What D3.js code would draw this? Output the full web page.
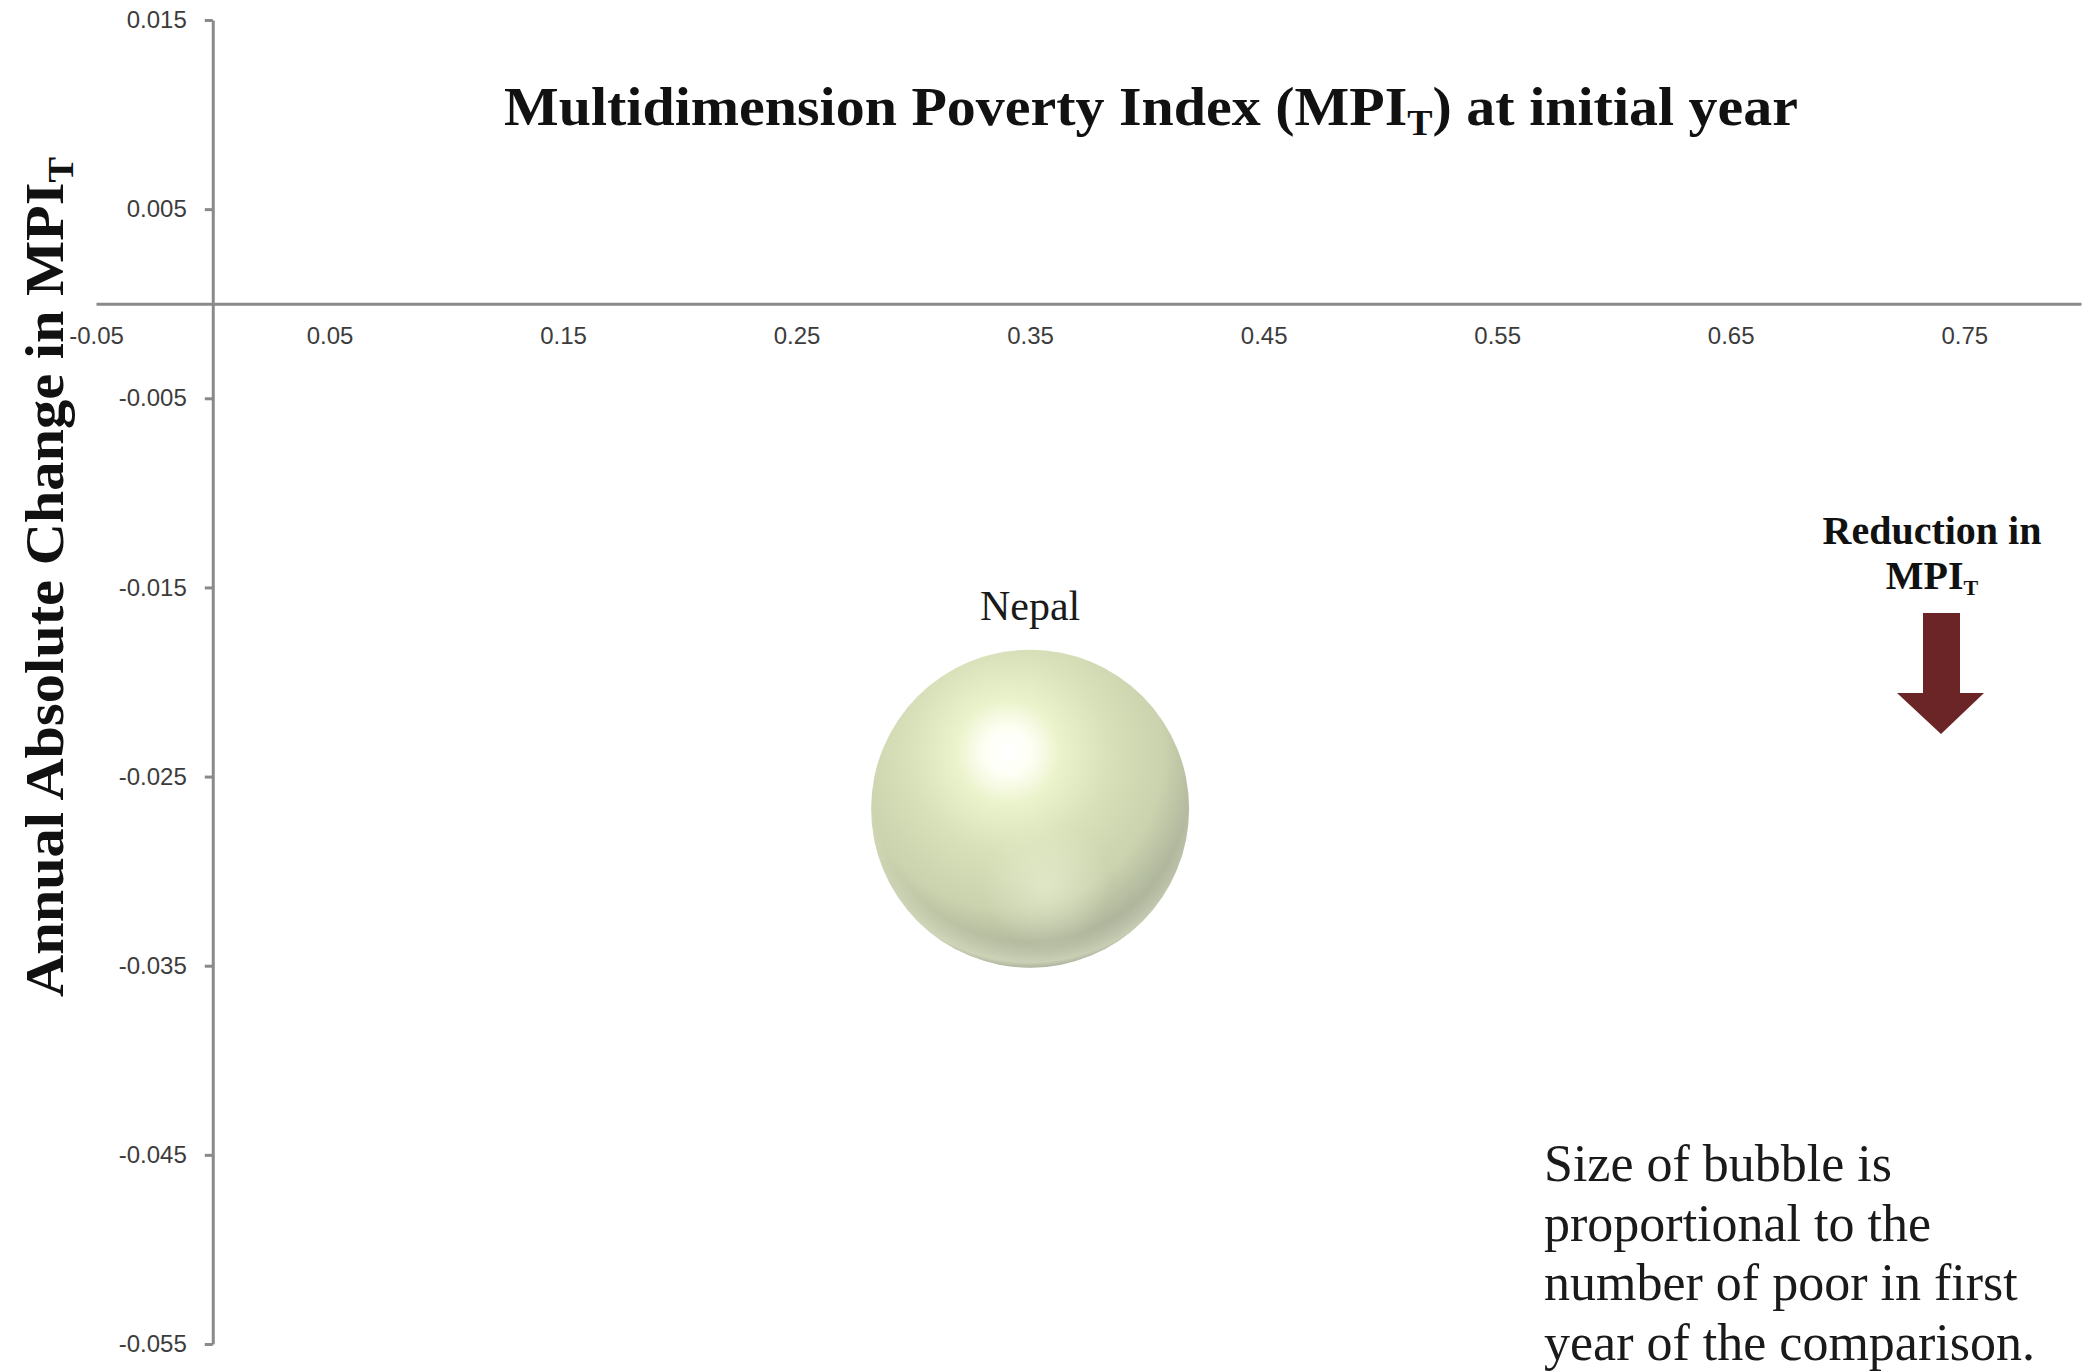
<!DOCTYPE html>
<html>
<head>
<meta charset="utf-8">
<script src="https://d3js.org/d3.v7.min.js"></script>
<style>
  html, body { margin: 0; padding: 0; background: #ffffff; }
  svg { display: block; }
</style>
</head>
<body>
<div id="chart"></div>
<script>
// Bubble data: MPI at initial year (x), annual absolute change (y), poor in first year (millions)
const countries = ["Nepal"];
const mpiInitial = [0.35];
const annualChange = [-0.0267];
const poorFirstYear = [17.0];

// Axis ticks
const xTicks = [-0.05, 0.05, 0.15, 0.25, 0.35, 0.45, 0.55, 0.65, 0.75];
const yTicks = [0.015, 0.005, -0.005, -0.015, -0.025, -0.035, -0.045, -0.055];

const W = 2091, H = 1371;
const serif = "'Liberation Serif', 'Times New Roman', serif";
const sans = "'Liberation Sans', Arial, sans-serif";

// Plain hyphen for negative numbers
const locale = d3.formatLocale({ decimal: ".", thousands: ",", grouping: [3], currency: ["", ""], minus: "-" });

const svg = d3.select("#chart").append("svg")
  .attr("width", W).attr("height", H);

const x = d3.scaleLinear().domain([-0.05, 0.8]).range([96, 2081]);
const y = d3.scaleLinear().domain([-0.055, 0.015]).range([1344, 20]);
const r = d3.scaleSqrt().domain([0, d3.max(poorFirstYear)]).range([0, 159]);

const data = countries.map((c, i) => ({
  name: c, x: mpiInitial[i], y: annualChange[i], poor: poorFirstYear[i]
}));

// Sphere shading
const defs = svg.append("defs");
const g1 = defs.append("radialGradient").attr("id", "sphereBase")
  .attr("cx", 0.43).attr("cy", 0.33).attr("fx", 0.43).attr("fy", 0.32).attr("r", 0.74);
[[0, "#ffffff"], [0.1, "#fefff4"], [0.22, "#ebf3cc"], [0.42, "#d8e1b9"],
 [0.66, "#cad2ae"], [0.84, "#adb49b"], [1, "#8d9386"]]
  .forEach(([o, c]) => g1.append("stop").attr("offset", o).attr("stop-color", c));

const g2 = defs.append("radialGradient").attr("id", "sphereReflect")
  .attr("cx", 0.55).attr("cy", 0.74).attr("r", 0.2);
g2.append("stop").attr("offset", 0).attr("stop-color", "#eef3d8").attr("stop-opacity", 0.55);
g2.append("stop").attr("offset", 1).attr("stop-color", "#eef3d8").attr("stop-opacity", 0);

const g3 = defs.append("radialGradient").attr("id", "sphereRim")
  .attr("cx", 0.5).attr("cy", 0.42).attr("r", 0.58);
g3.append("stop").attr("offset", 0.86).attr("stop-color", "#e8efcf").attr("stop-opacity", 0);
g3.append("stop").attr("offset", 0.97).attr("stop-color", "#e8efcf").attr("stop-opacity", 0.55);
g3.append("stop").attr("offset", 1).attr("stop-color", "#e8efcf").attr("stop-opacity", 0.2);

// Y axis (crosses at x = 0)
const yAxis = svg.append("g")
  .attr("transform", `translate(${x(0)},0)`)
  .call(d3.axisLeft(y).tickValues(yTicks).tickSize(8).tickSizeOuter(0).tickPadding(18)
    .tickFormat(locale.format(".3f")));
yAxis.select(".domain").attr("stroke", "#8a8a8a").attr("stroke-width", 3);
yAxis.selectAll(".tick line").attr("stroke", "#8a8a8a").attr("stroke-width", 3);
yAxis.selectAll(".tick text").attr("font-family", sans).attr("font-size", 24).attr("fill", "#3c3c3c");

// X axis (crosses at y = 0)
const xAxis = svg.append("g")
  .attr("transform", `translate(0,${y(0)})`)
  .call(d3.axisBottom(x).tickValues(xTicks).tickSize(0).tickSizeOuter(0).tickPadding(23)
    .tickFormat(locale.format(".2f")));
xAxis.select(".domain").attr("stroke", "#8a8a8a").attr("stroke-width", 3);
xAxis.selectAll(".tick text").attr("font-family", sans).attr("font-size", 24).attr("fill", "#3c3c3c");

// Bubbles
const bubble = svg.append("g").selectAll("g").data(data).join("g");
["sphereBase", "sphereReflect", "sphereRim"].forEach(id => {
  bubble.append("circle")
    .attr("cx", d => x(d.x)).attr("cy", d => y(d.y)).attr("r", d => r(d.poor))
    .attr("fill", `url(#${id})`);
});
bubble.append("text")
  .attr("x", d => x(d.x)).attr("y", d => y(d.y) - r(d.poor) - 30)
  .attr("text-anchor", "middle")
  .attr("font-family", serif).attr("font-size", 42).attr("fill", "#1a1a1a")
  .text(d => d.name);

// Title
const title = svg.append("text")
  .attr("x", 1151).attr("y", 125)
  .attr("text-anchor", "middle")
  .attr("font-family", serif).attr("font-weight", "bold").attr("font-size", 55)
  .attr("fill", "#111")
  .attr("textLength", 1294).attr("lengthAdjust", "spacingAndGlyphs");
title.append("tspan").text("Multidimension Poverty Index (MPI");
title.append("tspan").attr("font-size", 36).attr("dy", 10).text("T");
title.append("tspan").attr("dy", -10).text(") at initial year");

// Y axis title
const ytitle = svg.append("text")
  .attr("transform", "translate(63,577) rotate(-90)")
  .attr("text-anchor", "middle")
  .attr("font-family", serif).attr("font-weight", "bold").attr("font-size", 55)
  .attr("fill", "#111")
  .attr("textLength", 840).attr("lengthAdjust", "spacingAndGlyphs");
ytitle.append("tspan").text("Annual Absolute Change in MPI");
ytitle.append("tspan").attr("font-size", 36).attr("dy", 10).text("T");

// Direction annotation
const ann = svg.append("g").attr("font-family", serif).attr("font-weight", "bold")
  .attr("font-size", 40).attr("fill", "#111").attr("text-anchor", "middle");
ann.append("text").attr("x", 1932).attr("y", 544).text("Reduction in");
const l2 = ann.append("text").attr("x", 1932).attr("y", 589);
l2.append("tspan").text("MPI");
l2.append("tspan").attr("font-size", 22).attr("dy", 6).text("T");

const arrowPath = d3.path();
arrowPath.moveTo(1923, 613);
arrowPath.lineTo(1960, 613);
arrowPath.lineTo(1960, 693);
arrowPath.lineTo(1984, 693);
arrowPath.lineTo(1941, 734);
arrowPath.lineTo(1897, 693);
arrowPath.lineTo(1923, 693);
arrowPath.closePath();
svg.append("path").attr("d", arrowPath.toString()).attr("fill", "#6c2526");

// Bubble size note
const noteLines = ["Size of bubble is", "proportional to the", "number of poor in first", "year of the comparison."];
svg.append("g").selectAll("text").data(noteLines).join("text")
  .attr("x", 1544).attr("y", (d, i) => 1181 + i * 59.5)
  .attr("font-family", serif).attr("font-size", 52).attr("fill", "#1a1a1a")
  .text(d => d);
</script>
</body>
</html>
